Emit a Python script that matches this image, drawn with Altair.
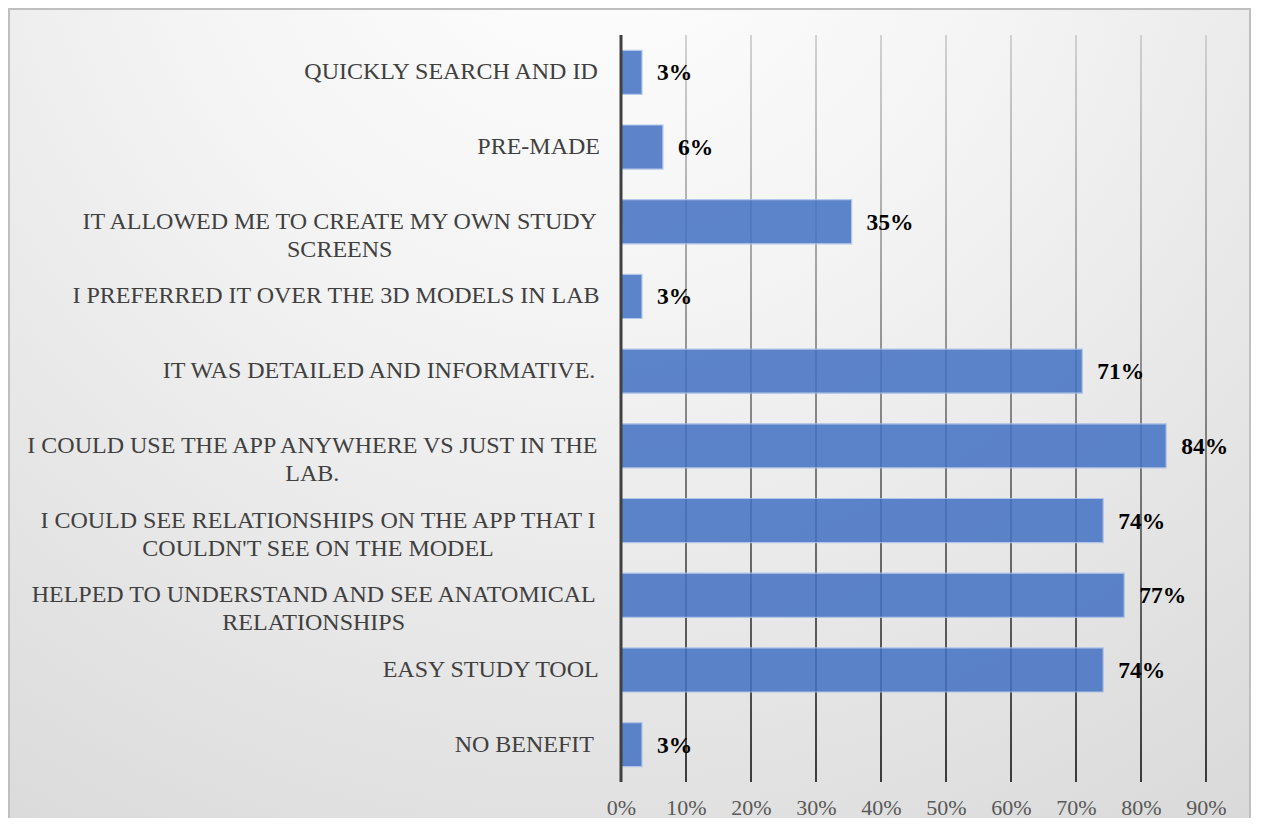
import altair as alt
import pandas as pd

# ---- data ----
categories = [
    "QUICKLY SEARCH AND ID",
    "PRE-MADE",
    "IT ALLOWED ME TO CREATE MY OWN STUDY SCREENS",
    "I PREFERRED IT OVER THE 3D MODELS IN LAB",
    "IT WAS DETAILED AND INFORMATIVE.",
    "I COULD USE THE APP ANYWHERE VS JUST IN THE LAB.",
    "I COULD SEE RELATIONSHIPS ON THE APP THAT I COULDN'T SEE ON THE MODEL",
    "HELPED TO UNDERSTAND AND SEE ANATOMICAL RELATIONSHIPS",
    "EASY STUDY TOOL",
    "NO BENEFIT",
]
label_lines = [
    ["QUICKLY SEARCH AND ID"],
    ["PRE-MADE"],
    ["IT ALLOWED ME TO CREATE MY OWN STUDY", "SCREENS"],
    ["I PREFERRED IT OVER THE 3D MODELS IN LAB"],
    ["IT WAS DETAILED AND INFORMATIVE."],
    ["I COULD USE THE APP ANYWHERE VS JUST IN THE", "LAB."],
    ["I COULD SEE RELATIONSHIPS ON THE APP THAT I", "COULDN'T SEE ON THE MODEL"],
    ["HELPED TO UNDERSTAND AND SEE ANATOMICAL", "RELATIONSHIPS"],
    ["EASY STUDY TOOL"],
    ["NO BENEFIT "],
]
values = [3.23, 6.45, 35.48, 3.23, 70.97, 83.87, 74.19, 77.42, 74.19, 3.23]
grid_values = [10, 20, 30, 40, 50, 60, 70, 80, 90]
tick_values = [0, 10, 20, 30, 40, 50, 60, 70, 80, 90]

# ---- layout constants ----
W, H = 585, 747
XMAX = 90
FONT = "Liberation Serif"
CAT_SIZE = 24
LABEL_GAP = 21

# Times / Liberation Serif advance widths (units per 1000)
_TW = {' ': 250, '.': 250, "'": 180, '-': 333}
_TW.update({d: 500 for d in "0123456789"})
_TW.update(dict(zip("ABCDEFGHIJKLMNOPQRSTUVWXYZ",
                    [722, 667, 667, 722, 611, 556, 722, 722, 333, 389, 722, 611, 889,
                     722, 722, 556, 722, 667, 556, 611, 722, 722, 944, 722, 722, 611])))


def text_w(s):
    return sum(_TW.get(c, 600) for c in s) * CAT_SIZE / 1000.0


rows = []
for cat, lines, v in zip(categories, label_lines, values):
    stripped = [l.rstrip() for l in lines]
    trail = max(text_w(l) - text_w(l.rstrip()) for l in lines)
    block_w = max(text_w(l) for l in stripped)
    # block right-aligned LABEL_GAP px left of the axis, lines centred in the block
    cx_px = -LABEL_GAP - trail - block_w / 2.0
    rows.append({"cat": cat, "v": v, "lab": f"{round(v)}%", "lines": stripped,
                 "cx": cx_px * XMAX / W})
df = pd.DataFrame(rows)

y_enc = alt.Y("cat:N", sort=categories, axis=None,
              scale=alt.Scale(paddingInner=0.41, paddingOuter=0.205))
x_scale = alt.Scale(domain=[0, XMAX], nice=False, zero=True)
x_axis = alt.Axis(values=tick_values, labelExpr="datum.value + '%'",
                  grid=False, domain=False, ticks=False, zindex=2,
                  labelFlush=False, labelOverlap=False,
                  labelFont=FONT, labelFontSize=22, labelColor="#595959",
                  labelPadding=15, title=None)


def xq(field):
    return alt.X(field, type="quantitative", scale=x_scale, axis=x_axis, title=None)


bg = alt.Chart(pd.DataFrame({"a": [0]})).mark_rect(
    fill=alt.RadialGradient(
        gradient="radial", x1=0.47, y1=0.06, r1=0.0, x2=0.47, y2=0.06, r2=1.0,
        stops=[alt.GradientStop(offset=0, color="#ffffff"),
               alt.GradientStop(offset=0.35, color="#f4f4f4"),
               alt.GradientStop(offset=1, color="#d6d6d6")]),
    stroke="#bfbfbf", strokeWidth=2,
).encode(x=alt.value(-612), x2=alt.value(W + 44), y=alt.value(-26), y2=alt.value(H + 45))

grid = alt.Chart(pd.DataFrame({"g": grid_values})).mark_tick(
    orient="vertical", thickness=1.6, size=H,
    fill=alt.LinearGradient(
        gradient="linear", x1=0, y1=0, x2=0, y2=1,
        stops=[alt.GradientStop(offset=0, color="#c8c8c8"),
               alt.GradientStop(offset=1, color="#111111")]),
    opacity=1,
).encode(x=xq("g"))

bars = alt.Chart(df).mark_bar(
    color="#4472C4", opacity=0.86, stroke="#a9c0e8", strokeWidth=1.2
).encode(x=xq("v"), y=y_enc)

axis_line = alt.Chart(pd.DataFrame({"a": [0]})).mark_rule(
    color="#404040", strokeWidth=3
).encode(x=alt.value(0), y=alt.value(0), y2=alt.value(H))

data_labels = alt.Chart(df).mark_text(
    align="left", baseline="middle", dx=15, dy=1,
    font=FONT, fontSize=23.5, fontWeight="bold", color="#000000"
).encode(x=xq("v"), y=y_enc, text="lab:N")

cat_labels = alt.Chart(df).mark_text(
    align="center", baseline="middle", lineHeight=28,
    font=FONT, fontSize=CAT_SIZE, color="#404040"
).encode(x=xq("cx"), y=y_enc, text="lines")

chart = alt.layer(bg, grid, bars, axis_line, data_labels, cat_labels).properties(
    width=W, height=H, autosize="none",
    padding={"left": 613, "top": 27, "right": 45, "bottom": 36},
).configure_view(stroke=None)

chart.save("out.html", embed_options={"renderer": "svg", "actions": False})
